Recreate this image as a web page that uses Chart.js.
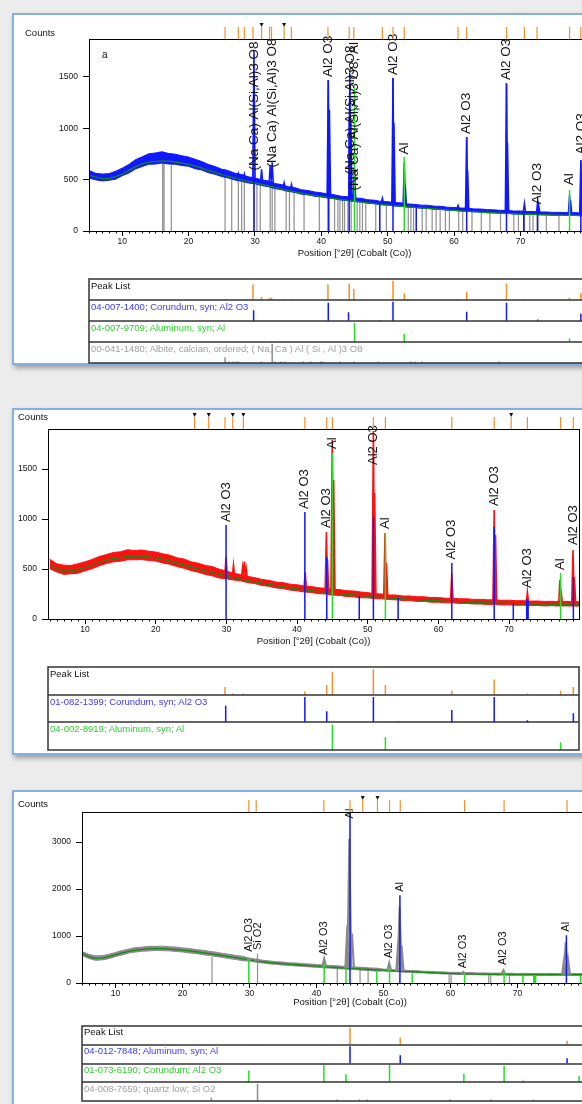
<!DOCTYPE html>
<html lang="en">
<head>
<meta charset="UTF-8">
<title>XRD patterns</title>
<script src="https://cdn.jsdelivr.net/npm/chart.js@4.4.1/dist/chart.umd.min.js"></script>
<style>
  body { margin: 0; width: 582px; height: 1104px; overflow: hidden; position: relative;
         background: #ececec; font-family: "Liberation Sans", Arial, sans-serif; }
  .frame { position: absolute; left: 12px; width: 640px; background: #fff;
           border: 2px solid #86aee0; box-shadow: 2px 3px 5px rgba(0,0,0,.35); }
  canvas { position: absolute; left: 0; }
  .txt { position: absolute; font-size: 9.5px; line-height: 1; white-space: nowrap; color: #111; }
</style>
</head>
<body>
<div class="frame" style="top:13px;height:348px"></div>
<div class="frame" style="top:408px;height:343px"></div>
<div class="frame" style="top:790px;height:330px"></div>

<canvas id="m1" width="640" height="239" style="top:20px"></canvas>
<canvas id="l1" width="640" height="100" style="top:270px"></canvas>
<canvas id="m2" width="600" height="237" style="top:410px"></canvas>
<canvas id="l2" width="600" height="100" style="top:660px"></canvas>
<canvas id="m3" width="640" height="213" style="top:795px"></canvas>
<canvas id="l3" width="640" height="89" style="top:1015px"></canvas>

<div class="txt" style="left:25px;top:28px">Counts</div>
<div class="txt" style="left:102px;top:50px;font-size:10px">a</div>
<div class="txt" style="left:91px;top:281px">Peak List</div>
<div class="txt" style="left:91px;top:302px;color:#3b3bff">04-007-1400; Corundum, syn; Al2 O3</div>
<div class="txt" style="left:91px;top:323px;color:#2fcf2f">04-007-9709; Aluminum, syn; Al</div>
<div class="txt" style="left:91px;top:344px;color:#a0a0a0">00-041-1480; Albite, calcian, ordered; ( Na, Ca ) Al ( Si , Al )3 O8</div>

<div class="txt" style="left:18px;top:412px">Counts</div>
<div class="txt" style="left:50px;top:669px">Peak List</div>
<div class="txt" style="left:50px;top:697px;color:#3b3bff">01-082-1399; Corundum, syn; Al2 O3</div>
<div class="txt" style="left:50px;top:724px;color:#2fcf2f">04-002-8919; Aluminum, syn; Al</div>

<div class="txt" style="left:18px;top:799px">Counts</div>
<div class="txt" style="left:84px;top:1027px">Peak List</div>
<div class="txt" style="left:84px;top:1046px;color:#3b3bff">04-012-7848; Aluminum, syn; Al</div>
<div class="txt" style="left:84px;top:1065px;color:#2fcf2f">01-073-6190; Corundum; Al2 O3</div>
<div class="txt" style="left:84px;top:1084px;color:#a0a0a0">04-008-7659; quartz low; Si O2</div>

<script>
// 2theta grid of the scans (degrees)
const deg = [5,6,7,8,9,10,11,12,13,14,15,16,17,18,19,20,21,22,23,24,25,26,27,28,29,30,31,32,33,34,35,36,37,38,39,40,
  41,42,43,44,45,46,47,48,49,50,51,52,53,54,55,56,57,58,59,60,61,62,63,64,65,66,67,68,69,70,71,72,73,74,75,76,77,78,79,80];
const xTicks = [10, 20, 30, 40, 50, 60, 70];
const yTicks1 = [0, 500, 1000, 1500];
const yTicks2 = [0, 500, 1000, 1500];
const yTicks3 = [0, 1000, 2000, 3000];

// ---- sample a (blue scan) ----
const bg1 = [545,525,510,510,530,555,590,625,655,670,678,682,680,672,662,650,632,612,590,570,550,532,515,498,484,
  470,455,440,424,410,395,381,368,355,345,335,325,315,306,298,290,282,274,266,259,253,247,241,235,230,225,220,215,210,205,
  200,196,192,188,184,180,177,174,172,168,165,163,161,159,157,155,154,153,152,151,150];
const hi1 = [590,562,555,558,582,612,648,695,722,752,760,772,755,748,732,720,698,676,648,628,602,588,562,550,528,
  516,498,488,462,452,432,422,402,394,380,372,360,352,338,334,322,318,304,300,288,286,276,274,264,260,252,251,242,240,231,
  229,224,223,215,214,208,206,201,201,194,195,189,190,185,185,181,182,179,179,176,177];
const lo1 = [515,498,488,494,505,538,565,604,628,650,652,662,652,650,638,630,607,594,568,552,530,517,496,484,468,
  460,443,432,413,402,386,376,358,352,338,332,320,314,301,298,286,282,270,266,255,253,243,242,232,231,222,221,212,211,202,
  201,194,193,186,185,178,178,172,173,166,166,161,162,157,158,153,155,151,153,149,151];
// [position, top, base]
const pat1 = [[25.5,585,545],[27.5,560,510],[28.4,555,500],[29.85,1760,480],[31.0,600,465],[32.3,640,450],[32.6,670,445],
  [34.4,470,415],[35.5,455,400],[41.05,1470,340],[41.22,1180,338],[44.3,1530,305],[44.45,1100,300],[45.0,620,300],
  [49.2,320,270],[50.8,1490,262],[50.95,1050,260],[52.5,670,250],[52.65,450,248],[60.6,250,215],[61.9,915,205],
  [62.05,590,204],[67.9,1440,190],[68.05,860,188],[70.6,270,182],[72.6,290,178],[72.75,250,178],[77.4,350,172],
  [77.55,300,172],[79.1,690,170],[79.25,420,170]];
const cor1 = [[29.85,1000],[41.05,1470],[44.2,1100],[48.8,262],[50.8,1490],[54.3,240],[61.9,915],[67.9,1440],
  [70.5,190],[72.6,285],[79.1,690]];
const alu1 = [[45.0,1400],[52.5,720],[77.4,400]];
const alb1 = [[16.1,660],[16.3,660],[17.4,640],[25.5,545],[26.5,520],[27.5,505],[28.0,495],[28.4,490],[29.9,470],
  [30.3,462],[30.8,455],[32.3,440],[32.6,560],[33.0,420],[34.7,400],[35.2,390],[35.9,380],[37.4,360],[39.7,335],
  [41.2,320],[42.0,313],[42.5,305],[42.8,300],[43.2,300],[43.5,296],[44.0,292],[44.5,290],[45.4,282],[45.8,278],
  [46.2,275],[46.7,270],[48.2,260],[48.8,255],[49.8,250],[53.1,232],[53.5,230],[53.9,228],[55.2,220],[55.8,217],
  [56.7,212],[57.3,209],[57.9,205],[58.7,202],[59.3,199],[60.7,194],[61.3,192],[62.7,186],[64.1,182],[65.4,178],
  [67.0,173],[69.0,167],[69.7,165],[70.6,162],[71.4,160],[71.9,160],[72.5,158],[73.9,155],[75.8,153]];
const lab1 = [[29.85,570,'(Na Ca) Al(Si,Al)3 O8'],[32.6,600,'(Na Ca) Al(Si,Al)3 O8'],[41.05,1480,'Al2 O3'],
  [44.3,530,'(Na Ca) Al(Si,Al)3 O8'],[45.0,375,'(Na Ca) Al(Si,Al)3 O8; Al'],[50.8,1500,'Al2 O3'],[52.5,725,'Al'],
  [61.9,925,'Al2 O3'],[67.9,1450,'Al2 O3'],[72.6,240,'Al2 O3'],[77.4,425,'Al'],[79.1,725,'Al2 O3']];
// peak list rows: [position, relative height]
const list1 = [[25.5,3],[27.5,2],[28.4,2],[29.7,80],[31.0,15],[32.2,12],[32.5,12],[34.4,2],[35.5,2],[41.0,80],
  [44.2,85],[44.9,58],[49.2,2],[50.8,100],[52.5,33],[60.6,5],[61.9,43],[67.9,85],[70.6,3],[72.5,3],[77.4,12],[79.1,37]];
const marks1 = [31.0, 34.4];
const corList1 = [[29.8,55],[41.05,95],[44.1,45],[48.8,3],[50.8,100],[61.9,48],[67.9,95],[72.6,8],[79.1,38]];
const aluList1 = [[45.0,100],[52.5,43],[77.4,18]];
const albList1 = [[16.1,4],[25.5,30],[26.1,8],[26.7,8],[27.2,8],[27.5,8],[31.0,8],[32.6,100],[33.0,8],[33.9,8],
  [34.5,8],[37.3,8],[38.4,8],[39.9,8],[40.2,8],[42.8,8],[44.9,8],[48.6,8],[53.5,8],[54.1,8],[55.2,8],[66.8,8]];

// ---- second sample (red scan) ----
const bg2 = [540,500,480,482,495,515,540,565,590,605,615,625,630,628,622,612,598,580,560,540,520,500,482,464,446,
  430,415,400,386,372,358,345,333,322,311,300,292,284,276,268,261,254,247,240,234,228,222,216,211,206,
  201,197,193,189,185,182,179,176,173,170,167,164,162,160,158,156,154,152,150,149,148,147,146,146,145,145];
const hi2 = [598,552,538,535,553,572,596,625,645,665,672,693,685,690,678,670,652,638,612,600,572,558,536,524,498,
  480,458,445,426,414,396,387,370,364,348,342,330,325,313,308,298,294,283,280,270,264,252,250,240,240,
  230,230,222,222,214,214,208,208,202,202,196,196,192,192,187,188,183,183,179,180,176,177,174,176,173,175];
const lo2 = [502,470,446,452,458,482,503,532,554,572,578,592,593,594,586,580,560,547,524,508,484,468,446,432,410,
  402,390,382,364,354,336,327,311,304,289,282,270,266,254,250,239,236,225,222,212,212,204,202,194,192,
  184,184,176,176,168,168,162,162,156,156,150,150,146,147,141,142,137,138,134,135,131,133,130,131,129,130];
const pat2 = [[29.95,620,430],[31.0,540,418],[32.3,520,405],[32.55,575,400],[32.8,500,395],[41.15,470,294],
  [44.15,870,268],[44.3,600,266],[44.98,1790,262],[45.18,1390,260],[50.8,1880,228],[50.98,1260,226],[52.45,860,218],
  [52.65,560,216],[61.9,460,178],[67.9,1090,162],[68.08,840,160],[72.6,270,152],[77.2,390,147],[77.4,250,146],
  [79.05,690,146],[79.25,420,145]];
const cor2 = [[29.95,940],[41.1,1070],[44.2,620],[48.8,230],[50.8,1020],[54.3,210],[61.9,560],[67.9,920],
  [70.6,155],[72.5,200],[72.7,185],[79.1,420]];
const alu2 = [[45.0,1660],[52.5,860],[77.3,460]];
const lab2 = [[29.95,950,'Al2 O3'],[41.1,1080,'Al2 O3'],[44.2,890,'Al2 O3'],[45.0,1680,'Al'],[50.8,1520,'Al2 O3'],
  [52.5,880,'Al'],[61.9,575,'Al2 O3'],[67.9,1110,'Al2 O3'],[72.6,290,'Al2 O3'],[77.3,470,'Al'],[79.1,720,'Al2 O3']];
const list2 = [[25.5,3],[27.5,3],[29.8,30],[30.9,5],[32.4,5],[41.1,12],[44.2,38],[45.0,90],[50.8,100],[52.5,38],
  [61.9,15],[67.9,60],[70.3,3],[72.6,5],[77.3,15],[79.1,30]];
const marks2 = [25.5, 27.5, 30.9, 32.4, 70.3];
const corList2 = [[29.9,65],[41.1,100],[44.2,44],[50.8,100],[54.3,3],[61.9,48],[67.9,100],[72.6,8],[79.1,36]];
const aluList2 = [[45.0,100],[52.5,50],[77.3,30]];

// ---- third sample (grey scan) ----
const bg3 = [625,560,525,530,560,600,640,675,700,715,725,730,730,722,712,698,682,665,645,625,605,582,560,538,515,
  490,468,450,433,420,408,398,388,378,368,358,348,340,330,322,314,305,296,287,278,270,262,255,248,241,
  234,227,220,214,208,203,199,196,193,190,188,186,184,182,181,180,180,179,179,178,178,178,178,178,178,178];
const hi3 = [672,610,578,582,612,650,692,722,755,764,780,780,784,772,764,746,736,712,698,674,657,630,612,586,567,
  528,508,484,470,454,446,430,426,410,406,392,385,374,367,356,352,338,334,320,316,296,290,278,276,264,
  262,250,248,238,236,226,227,219,221,213,215,209,211,205,208,203,206,202,205,201,204,201,204,201,203,202];
const lo3 = [588,522,482,492,518,562,598,637,658,677,683,692,688,684,670,660,640,627,603,587,563,544,518,500,473,
  467,441,427,406,397,381,375,361,355,341,335,321,317,303,299,287,282,269,264,251,257,245,242,231,228,
  217,216,203,201,191,190,182,183,176,177,171,173,167,169,164,166,163,165,162,164,161,164,162,163,161,163];
const pat3 = [[29.9,520,480],[31.1,505,465],[41.15,520,345],[44.6,1230,318],[44.9,3070,314],[45.3,1050,312],
  [50.85,430,265],[52.2,900,256],[52.4,1620,254],[52.7,800,252],[61.9,235,196],[67.9,275,183],[76.95,500,178],
  [77.2,870,178],[77.55,500,178]];
const alu3 = [[45.0,3640],[52.45,1870],[77.3,1015]];
const cor3 = [[29.9,485],[41.15,415],[44.4,310],[49.0,235],[50.9,340],[54.3,205],[62.1,205],[68.0,235],[70.8,165],
  [72.5,165],[72.7,165],[79.4,165]];
const qtz3 = [[24.4,555],[31.2,630],[43.1,310],[46.5,285],[47.7,275],[59.8,195],[60.1,195],[65.7,180],[66.0,180],
  [68.8,175],[72.4,170]];
const lab3 = [[29.85,625,'Al2 O3'],[31.2,660,'Si O2'],[41.15,555,'Al2 O3'],[45.0,3460,'Al'],[50.85,485,'Al2 O3'],
  [52.45,1900,'Al'],[61.9,270,'Al2 O3'],[67.9,340,'Al2 O3'],[77.3,1050,'Al']];
const list3 = [[29.9,3],[31.0,4],[41.1,4],[45.0,100],[46.9,3],[49.1,3],[50.9,4],[52.5,40],[62.1,3],[68.0,3],[77.4,23]];
const marks3 = [46.9, 49.1];
const aluList3 = [[45.0,100],[52.5,48],[77.4,30]];
const corList3 = [[29.9,68],[41.1,100],[44.4,46],[50.9,100],[62.0,50],[68.0,95],[70.8,10],[79.2,38]];
const qtzList3 = [[24.3,20],[31.2,100],[43.1,8],[46.4,8],[47.6,8],[59.9,8],[66.0,8],[72.4,8]];

const BLUE = '#1018ff', RED = '#ff1010', GREY = '#8a8a8a', GREEN = '#22e022', BGLINE = '#128a12', ORANGE = '#f7902a';
const FONT = '"Liberation Sans", Arial, sans-serif';

Chart.defaults.font.family = FONT;
Chart.defaults.color = '#111';
Chart.defaults.animation = false;

function curveSet(ys, color, width, fill) {
  return { data: deg.map((x, i) => ({ x, y: ys[i] })), borderColor: color, backgroundColor: color,
           borderWidth: width, pointRadius: 0, fill };
}
function stickSet(list, color, width) {
  const pts = [];
  list.forEach(([x, h]) => pts.push({ x, y: 0 }, { x, y: h }, { x, y: null }));
  return { data: pts, borderColor: color, borderWidth: width, pointRadius: 0, spanGaps: false, fill: false };
}
// each scan peak is drawn as a narrow spike of half-width hw degrees
function peakSet(list, color, hw, width) {
  const pts = [];
  list.forEach(([x, top, base]) => pts.push({ x: x - hw, y: base }, { x, y: top }, { x: x + hw, y: base }, { x, y: null }));
  return { data: pts, borderColor: color, borderWidth: width, pointRadius: 0, spanGaps: false, fill: false };
}

// labels, plot box, minor ticks and the orange peak strip above the plot
function xrdPlugin(p) {
  return {
    id: 'xrd',
    afterDatasetsDraw(chart) {
      const { ctx, chartArea: a, scales: { x, y } } = chart;
      ctx.save();
      ctx.fillStyle = '#111';
      ctx.font = p.font + 'px ' + FONT;
      ctx.textAlign = 'left';
      ctx.textBaseline = 'middle';
      p.labels.forEach(([pos, base, text]) => {
        ctx.save();
        ctx.translate(x.getPixelForValue(pos), y.getPixelForValue(base) - 2);
        ctx.rotate(-Math.PI / 2);
        ctx.fillText(text, 0, 0);
        ctx.restore();
      });
      ctx.strokeStyle = '#000';
      ctx.lineWidth = 1;
      ctx.strokeRect(a.left + 0.5, a.top + 0.5, a.right - a.left, a.bottom - a.top);
      for (let d = Math.ceil(x.min); d <= x.max; d++) {
        if (d % 10 === 0) continue;
        const px = Math.round(x.getPixelForValue(d)) + 0.5;
        ctx.beginPath(); ctx.moveTo(px, a.bottom); ctx.lineTo(px, a.bottom + 2.5); ctx.stroke();
      }
      ctx.strokeStyle = ORANGE;
      ctx.lineWidth = 1.2;
      p.tops.forEach(pos => {
        const px = x.getPixelForValue(pos);
        ctx.beginPath(); ctx.moveTo(px, a.top); ctx.lineTo(px, a.top - 12); ctx.stroke();
      });
      ctx.fillStyle = '#111';
      p.marks.forEach(pos => {
        const px = x.getPixelForValue(pos);
        ctx.beginPath(); ctx.moveTo(px - 2, a.top - 16); ctx.lineTo(px + 2, a.top - 16); ctx.lineTo(px, a.top - 12);
        ctx.closePath(); ctx.fill();
      });
      ctx.restore();
    }
  };
}

function mainChart(id, p) {
  const datasets = [];
  p.front.forEach(s => datasets.push(stickSet(s[0], s[1], 1.5)));
  datasets.push(peakSet(p.pat, p.color, p.hw, p.pw));
  datasets.push(curveSet(p.bg, BGLINE, 1.3, false));
  datasets.push(curveSet(p.hi, p.color, 1, '+1'));
  datasets.push(curveSet(p.lo, p.color, 1, false));
  datasets.push(stickSet(p.grey, '#8f8f8f', 1.2));
  if (p.behind) datasets.unshift(peakSet(p.pat, p.color, p.hw, p.pw));
  new Chart(document.getElementById(id), {
    type: 'line',
    data: { datasets },
    plugins: [xrdPlugin(p)],
    options: {
      responsive: false, devicePixelRatio: 1, events: [],
      layout: { padding: { left: 0, right: p.padR, top: p.padT, bottom: 0 } },
      plugins: { legend: { display: false }, tooltip: { enabled: false } },
      scales: {
        x: {
          type: 'linear', min: p.xmin, max: p.xmax,
          afterBuildTicks: s => { s.ticks = xTicks.map(v => ({ value: v })); },
          afterFit: s => { s.height = p.xh; },
          grid: { drawOnChartArea: false, tickLength: 5, color: '#000' },
          border: { color: '#000' },
          ticks: { font: { size: 8.5 }, padding: 1, maxRotation: 0, callback: v => String(v) },
          title: { display: true, text: 'Position [°2θ] (Cobalt (Co))', font: { size: 9.5 }, padding: 0 }
        },
        y: {
          min: 0, max: p.ymax,
          afterBuildTicks: s => { s.ticks = p.yTicks.map(v => ({ value: v })); },
          afterFit: s => { s.width = p.yw; },
          grid: { drawOnChartArea: false, tickLength: 6, color: '#000' },
          border: { color: '#000' },
          ticks: { font: { size: 8.5 }, padding: 5, callback: v => String(v) }
        }
      }
    }
  });
}

// peak list strip under each plot, one row per phase
function listChart(id, rows, xmin, xmax, pad) {
  const n = rows.length;
  const datasets = rows.map((r, i) => {
    const base = (n - 1 - i) * 100;
    const pts = [];
    r[0].forEach(([x, h]) => pts.push({ x, y: base }, { x, y: base + h * 0.92 }, { x, y: null }));
    return { data: pts, borderColor: r[1], borderWidth: 1.5, pointRadius: 0, spanGaps: false, fill: false };
  });
  const rowLines = {
    id: 'rows',
    afterDraw(chart) {
      const { ctx, chartArea: a, scales: { y } } = chart;
      ctx.save();
      ctx.strokeStyle = '#333';
      ctx.lineWidth = 1.5;
      ctx.strokeRect(a.left, a.top, a.right - a.left, a.bottom - a.top);
      for (let i = 1; i < n; i++) {
        const py = Math.round(y.getPixelForValue(i * 100));
        ctx.beginPath(); ctx.moveTo(a.left, py); ctx.lineTo(a.right, py); ctx.stroke();
      }
      ctx.restore();
    }
  };
  new Chart(document.getElementById(id), {
    type: 'line',
    data: { datasets },
    plugins: [rowLines],
    options: {
      responsive: false, devicePixelRatio: 1, events: [],
      layout: { padding: pad },
      plugins: { legend: { display: false }, tooltip: { enabled: false } },
      scales: {
        x: { type: 'linear', min: xmin, max: xmax, display: false },
        y: { min: 0, max: n * 100, display: false }
      }
    }
  });
}

mainChart('m1', { color: BLUE, bg: bg1, hi: hi1, lo: lo1, pat: pat1, front: [[cor1, BLUE], [alu1, GREEN]], grey: alb1,
  labels: lab1, tops: list1.map(r => r[0]), marks: marks1, font: 13.5, hw: 0.18, pw: 1.5,
  xmin: 5, xmax: 85, ymax: 1870, yTicks: yTicks1, yw: 89, xh: 28, padT: 19, padR: 20 });
listChart('l1', [[list1, ORANGE], [corList1, BLUE], [aluList1, GREEN], [albList1, '#8f8f8f']], 5, 85,
  { left: 89, right: 20, top: 9, bottom: 7 });

mainChart('m2', { color: RED, bg: bg2, hi: hi2, lo: lo2, pat: pat2, front: [[cor2, BLUE], [alu2, GREEN]], grey: [],
  labels: lab2, tops: list2.map(r => r[0]), marks: marks2, font: 13, hw: 0.18, pw: 1.6,
  xmin: 4.75, xmax: 79.9, ymax: 1900, yTicks: yTicks2, yw: 48, xh: 28, padT: 19, padR: 21 });
listChart('l2', [[list2, ORANGE], [corList2, BLUE], [aluList2, GREEN]], 4.75, 79.9,
  { left: 48, right: 21, top: 7, bottom: 10 });

mainChart('m3', { color: GREY, bg: bg3, hi: hi3, lo: lo3, pat: pat3, front: [[alu3, BLUE], [cor3, GREEN]], grey: qtz3,
  labels: lab3, tops: list3.map(r => r[0]), marks: marks3, font: 11, hw: 0.3, pw: 2,
  xmin: 5, xmax: 85, ymax: 3640, yTicks: yTicks3, yw: 82, xh: 25, padT: 17, padR: 22 });
listChart('l3', [[list3, ORANGE], [aluList3, BLUE], [corList3, GREEN], [qtzList3, '#8f8f8f']], 5, 85,
  { left: 82, right: 22, top: 11, bottom: 3 });
</script>
</body>
</html>
